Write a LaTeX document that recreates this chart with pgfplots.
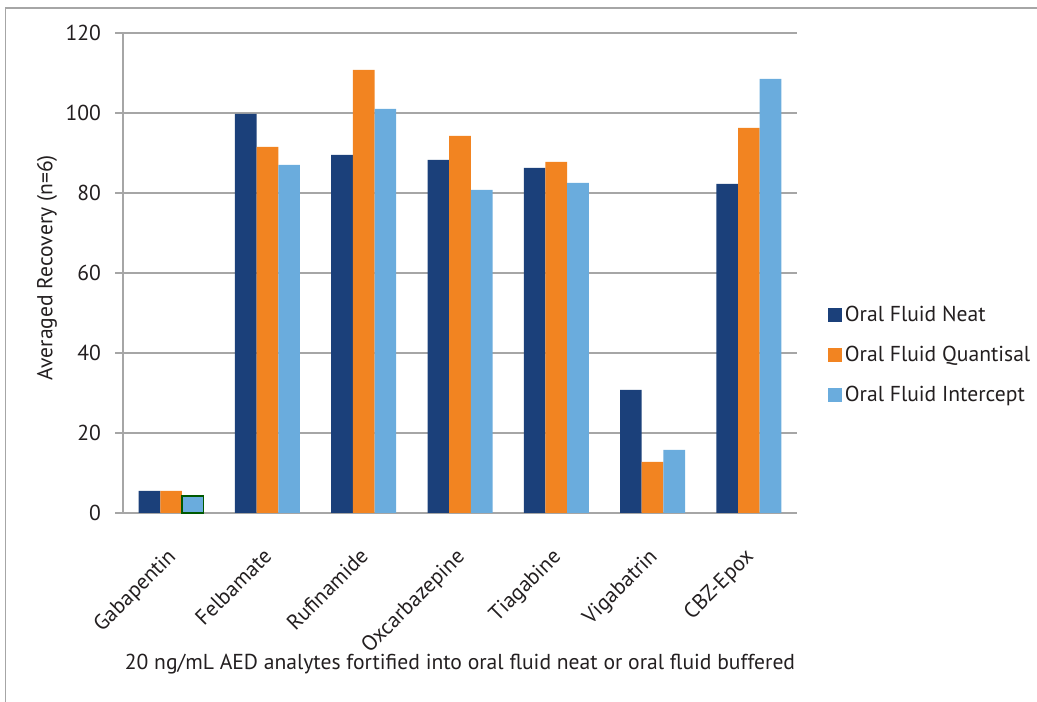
\documentclass[border=0pt]{standalone}
\usepackage{fontspec}
\setmainfont{PT Sans}
\usepackage{pgfplots}
\pgfplotsset{compat=1.18}
\definecolor{neat}{HTML}{1B407A}
\definecolor{quant}{HTML}{F28421}
\definecolor{inter}{HTML}{6AACDD}
\definecolor{gridc}{HTML}{A6A6A6}
\definecolor{txt}{HTML}{231F20}
\begin{document}
\fontsize{16.2}{19}\selectfont
\color{txt}
\begin{tikzpicture}[x=0.75pt,y=0.75pt]
\useasboundingbox (0,0) rectangle (1037,702);
\draw[gridc, line width=1.1pt] (5.5,0) -- (5.5,694) -- (1037,694);
\begin{axis}[
  at={(92.25pt,141.75pt)}, anchor=south west,
  scale only axis, width=505.5pt, height=360pt,
  ymin=0, ymax=120, ytick={0,20,...,120},
  xmin=-0.5, xmax=6.5, xtick={0,...,6},
  xticklabels={Gabapentin,Felbamate,Rufinamide,Oxcarbazepine,Tiagabine,Vigabatrin,CBZ-Epox},
  axis lines*=left,
  axis line style={gridc, line width=1.1pt},
  ymajorgrids, grid style={gridc, line width=1.1pt},
  xtick style={draw=none},
  ytick style={gridc, line width=1.1pt},
  tick align=outside, major tick length=6pt,
  /pgf/number format/assume math mode=true,
  tick label style={font=\fontsize{16.2}{19}\selectfont, text=txt},
  yticklabel style={xshift=-5pt},
  xticklabel style={rotate=45, anchor=north east, xshift=-11pt, yshift=-5.5pt},
  ylabel={Averaged Recovery (n=6)},
  ylabel style={at={(axis description cs:0,0.5)}, yshift=57pt, xshift=4pt, anchor=center, font=\fontsize{16.2}{19}\selectfont},
  xlabel={20 ng/mL AED analytes fortified into oral fluid neat or oral fluid buffered},
  xlabel style={at={(axis description cs:0.5,0)}, yshift=-113pt, anchor=center, font=\fontsize{16.2}{19}\selectfont},
  ybar=0pt, bar width=0.225,
  legend style={at={(axis description cs:1.046,0.329)}, anchor=west, draw=none, fill=none,
    inner sep=0pt, row sep=12pt, font=\fontsize{16.2}{19}\selectfont, text=txt,
    /tikz/every even column/.append style={column sep=3pt}},
  legend cell align=left,
  legend image code/.code={\fill[#1] (0pt,-5.25pt) rectangle (10.5pt,5.25pt);},
  clip=false,
]
\addplot[fill=neat, draw=none, bar shift=-0.225] coordinates {
  (0,5.5) (1,99.75) (2,89.5) (3,88.25) (4,86.25) (5,30.75) (6,82.25)};
\addplot[fill=quant, draw=none, bar shift=0] coordinates {
  (0,5.5) (1,91.5) (2,110.75) (3,94.25) (4,87.75) (5,12.75) (6,96.25)};
\addplot[fill=inter, draw=none, bar shift=0.225] coordinates {
  (0,4.25) (1,87) (2,101) (3,80.75) (4,82.5) (5,15.75) (6,108.5)};
\addplot[fill=inter, draw=green!35!black, line width=0.8pt, bar shift=0.225, forget plot] coordinates {(0,4.25)};
\legend{Oral Fluid Neat, Oral Fluid Quantisal, Oral Fluid Intercept}
\end{axis}
\end{tikzpicture}
\end{document}
